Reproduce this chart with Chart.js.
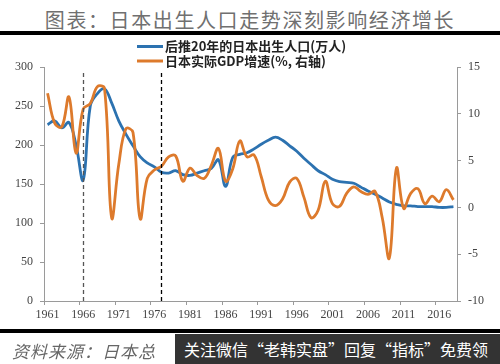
<!DOCTYPE html>
<html><head><meta charset="utf-8">
<script src="https://cdn.jsdelivr.net/npm/chart.js@4.4.1/dist/chart.umd.min.js"></script>
<style>
html,body{margin:0;padding:0;background:#fff;}
#wrap{position:relative;width:500px;height:364px;overflow:hidden;background:#fff;}
#title{position:absolute;left:0;top:5px;width:500px;text-align:center;font:20px "Noto Sans CJK SC";color:#707070;letter-spacing:1.6px;white-space:nowrap;}
.rule{position:absolute;left:0;width:500px;height:4px;background:#000;}
#src{position:absolute;left:12px;top:338px;font:italic 17px "Noto Sans CJK SC";color:#666;white-space:nowrap;letter-spacing:1px;}
#wm{position:absolute;left:175px;top:334px;width:325px;height:30px;background:#333;color:#fff;font:16px "Noto Sans CJK SC";line-height:30px;padding-left:9px;box-sizing:border-box;white-space:nowrap;}
canvas{position:absolute;left:0;top:0;}
</style></head>
<body><div id="wrap">
<div id="title">图表：日本出生人口走势深刻影响经济增长</div>
<div class="rule" style="top:31px"></div>
<canvas id="c" width="500" height="364"></canvas>
<div class="rule" style="top:329px"></div>
<div id="src">资料来源：日本总</div>
<div id="wm">关注微信“老韩实盘”回复“指标”免费领</div>
</div>
<script>
// ---- data ----
const years = [];
for (let y = 1961; y <= 2018; y++) years.push(String(y));

const birthsShifted20 = [
  226, 231, 222, 229, 200, 155, 250, 266, 272, 254,
  231, 214, 199, 185, 177, 172, 165, 164, 167, 162,
  161, 164, 167, 170, 181, 147, 184, 188, 190, 195,
  201, 206, 210, 206, 199, 192, 183, 175, 167, 162,
  156, 153, 152, 151, 146, 141, 137, 132, 127, 124,
  122, 122, 121, 121, 121, 120, 120, 121
];
const gdpGrowth = [
  12.2, 9.0, 8.6, 11.8, 5.8, 10.5, 11.1, 12.9, 12.7, -1.1,
  4.6, 8.4, 8.0, -1.2, 3.1, 4.0, 4.4, 5.4, 5.5, 2.8,
  4.2, 3.4, 3.1, 4.5, 6.3, 2.8, 4.1, 7.1, 5.4, 5.6,
  3.3, 0.8, 0.2, 0.9, 2.7, 3.1, 1.1, -1.1, -0.3, 2.8,
  0.4, 0.1, 1.5, 2.2, 1.7, 1.4, 1.7, -1.1, -5.4, 4.2,
  -0.1, 1.5, 2.0, 0.4, 1.2, 0.6, 1.9, 0.8
];
const markerYears = ['1966', '1977'];
const seriesLabels = ['后推20年的日本出生人口(万人)', '日本实际GDP增速(%, 右轴)'];

const BLUE = '#2C72B0';
const ORANGE = '#DD7A2C';
const AXIS = '#9a9a9a';
const tickFont = {family: '"Liberation Serif", "Times New Roman", serif', size: 12};

const legendPlugin = {
  id: 'customLegend',
  afterDraw(chart) {
    const ctx = chart.ctx;
    ctx.save();
    const ds = chart.data.datasets;
    const x0 = 137, ys = [46.5, 61];
    ds.forEach((d, i) => {
      ctx.strokeStyle = d.borderColor;
      ctx.lineWidth = 3;
      ctx.beginPath();
      ctx.moveTo(x0, ys[i]);
      ctx.lineTo(x0 + 26, ys[i]);
      ctx.stroke();
      ctx.fillStyle = '#222';
      ctx.font = 'bold 13px "Noto Sans CJK SC"';
      ctx.textBaseline = 'middle';
      ctx.textAlign = 'left';
      ctx.fillText(d.label, x0 + 28, ys[i]);
    });
    ctx.restore();
  }
};

const markerPlugin = {
  id: 'markers',
  afterDatasetsDraw(chart) {
    const ctx = chart.ctx, xs = chart.scales.x, area = chart.chartArea;
    ctx.save();
    markerYears.forEach((yr, i) => {
      const px = Math.round(xs.getPixelForValue(years.indexOf(yr))) + 0.5;
      ctx.strokeStyle = i === 0 ? '#555' : '#000';
      ctx.lineWidth = 1.3;
      ctx.setLineDash([4, 3]);
      ctx.beginPath();
      ctx.moveTo(px, area.top + 6);
      ctx.lineTo(px, area.bottom);
      ctx.stroke();
    });
    ctx.restore();
  }
};

new Chart(document.getElementById('c'), {
  type: 'line',
  data: {
    labels: years,
    datasets: [
      {label: seriesLabels[0], data: birthsShifted20, borderColor: BLUE, borderWidth: 2.8,
       pointRadius: 0, tension: 0.4, yAxisID: 'y', order: 1},
      {label: seriesLabels[1], data: gdpGrowth, borderColor: ORANGE, borderWidth: 2.8,
       pointRadius: 0, tension: 0.4, yAxisID: 'y1', order: 0}
    ]
  },
  options: {
    responsive: false,
    animation: false,
    layout: {padding: {top: 67, left: 0, right: 0, bottom: 33}},
    plugins: {legend: {display: false}, tooltip: {enabled: false}},
    scales: {
      x: {
        type: 'category', offset: true,
        grid: {offset: true, drawOnChartArea: false, drawTicks: true, tickLength: 4,
               color: (c) => (c.index % 5 === 0 ? AXIS : 'rgba(0,0,0,0)')},
        border: {color: AXIS, width: 1},
        ticks: {autoSkip: false, maxRotation: 0, minRotation: 0, padding: 3, font: tickFont, color: '#444',
                callback: (v, i) => (i % 5 === 0 ? years[i] : '')},
        afterFit(s) { s.height = 30; }
      },
      y: {
        position: 'left', min: 0, max: 300,
        ticks: {stepSize: 50, padding: 7, font: tickFont, color: '#444'},
        grid: {drawOnChartArea: false, tickLength: 4, color: AXIS},
        border: {color: AXIS},
        afterFit(s) { s.width = 44; }
      },
      y1: {
        position: 'right', min: -10, max: 15,
        ticks: {stepSize: 5, padding: 7, font: tickFont, color: '#444'},
        grid: {drawOnChartArea: false, tickLength: 4, color: AXIS},
        border: {color: AXIS},
        afterFit(s) { s.width = 43; }
      }
    }
  },
  plugins: [legendPlugin, markerPlugin]
});
</script>
</body></html>
